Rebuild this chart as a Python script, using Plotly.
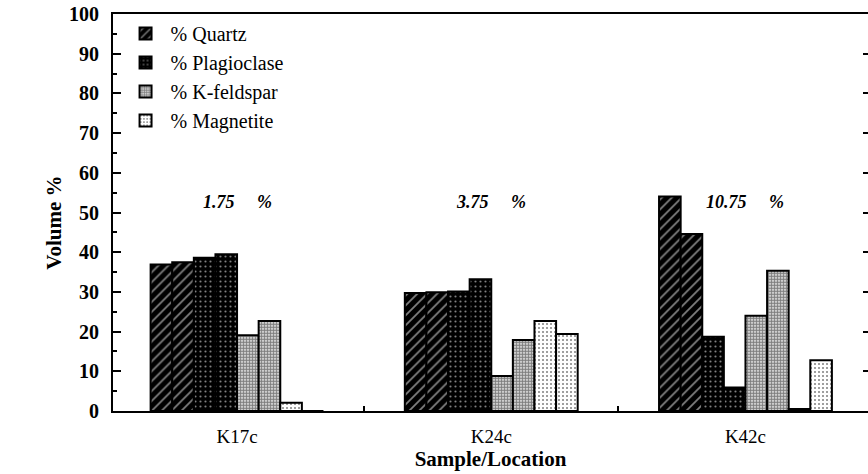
import plotly.graph_objects as go

samples = ["K17c", "K24c", "K42c"]
porosity = [1.75, 3.75, 10.75]

minerals = ["% Quartz", "% Plagioclase", "% K-feldspar", "% Magnetite"]
quartz_a = [36.9, 29.7, 54.0]
quartz_b = [37.5, 29.9, 44.6]
plag_a = [38.6, 30.1, 18.7]
plag_b = [39.5, 33.2, 5.9]
kfeld_a = [19.1, 8.8, 24.0]
kfeld_b = [22.7, 17.9, 35.3]
magn_a = [2.1, 22.7, 0.5]
magn_b = [0.0, 19.4, 12.8]

series = [
    (minerals[0], quartz_a, True), (minerals[0], quartz_b, False),
    (minerals[1], plag_a, True), (minerals[1], plag_b, False),
    (minerals[2], kfeld_a, True), (minerals[2], kfeld_b, False),
    (minerals[3], magn_a, True), (minerals[3], magn_b, False),
]

styles = {
    minerals[0]: dict(bg="black", fg="white", shape="/", size=7, solidity=0.25),
    minerals[1]: dict(bg="black", fg="white", shape=".", size=5, solidity=0.15),
    minerals[2]: dict(bg="white", fg="black", shape=".", size=3, solidity=0.7),
    minerals[3]: dict(bg="white", fg="black", shape=".", size=4, solidity=0.2),
}

SERIF = "Liberation Serif, Times New Roman, serif"

fig = go.Figure()
for name, vals, show in series:
    st = styles[name]
    fig.add_trace(go.Bar(
        x=samples, y=vals, name=name, legendgroup=name, showlegend=show,
        marker=dict(color=st["bg"], line=dict(color="black", width=2),
                    pattern=dict(shape=st["shape"], fgcolor=st["fg"], bgcolor=st["bg"],
                                 size=st["size"], solidity=st["solidity"])),
    ))

# empty trace so the right-hand tick axis is drawn
fig.add_trace(go.Scatter(x=[], y=[], yaxis="y2", showlegend=False, hoverinfo="skip"))

for i, (s, p) in enumerate(zip(samples, porosity)):
    fig.add_annotation(x=i, y=52.6, xref="x", yref="y",
                       text=f"<b><i>{p:g}\u00a0\u00a0\u00a0\u00a0\u00a0%</i></b>",
                       showarrow=False, font=dict(family=SERIF, size=18, color="black"))

fig.add_annotation(x=-0.0967, y=0.474, xref="paper", yref="paper", textangle=-90,
                   text="<b>Volume %</b>", showarrow=False,
                   font=dict(family=SERIF, size=21, color="black"))

fig.update_layout(
    width=868, height=474,
    margin=dict(l=113, r=0, t=14, b=63),
    paper_bgcolor="white", plot_bgcolor="white",
    barmode="group", bargap=0.32, bargroupgap=0,
    font=dict(family=SERIF, color="black"),
    showlegend=True,
    legend=dict(x=0.01, y=1.0, xanchor="left", yanchor="top", itemwidth=40,
                bgcolor="rgba(0,0,0,0)", font=dict(family=SERIF, size=20, color="black"),
                traceorder="grouped", tracegroupgap=0),
    xaxis=dict(range=[-0.488, 2.482], showline=True, linecolor="black", linewidth=2,
               mirror=True, ticks="inside", tickson="boundaries", ticklen=5, tickwidth=2,
               tickcolor="black", showgrid=False, zeroline=False, automargin=False,
               ticklabelstandoff=7,
               tickfont=dict(family=SERIF, size=19, color="black"),
               title=dict(text="<b>Sample/Location</b>", standoff=4,
                          font=dict(family=SERIF, size=21, color="black"))),
    yaxis=dict(range=[0, 100], dtick=10, showline=True, linecolor="black", linewidth=2,
               ticks="inside", ticklen=8, tickwidth=2, tickcolor="black",
               minor=dict(dtick=5, ticks="inside", ticklen=4, tickwidth=2, tickcolor="black"),
               showgrid=False, zeroline=False, ticklabelstandoff=8, automargin=False,
               tickprefix="<b>", ticksuffix="</b>",
               tickfont=dict(family=SERIF, size=20, color="black")),
    yaxis2=dict(range=[0, 100], dtick=10, overlaying="y", side="right", anchor="x",
                showline=False, ticks="inside", ticklen=5, tickwidth=2, tickcolor="black",
                showticklabels=False, showgrid=False, zeroline=False, automargin=False),
)

fig.write_html("out.html", config={"displayModeBar": False},
               post_script="document.body.style.margin='0';document.body.style.overflow='hidden';")
